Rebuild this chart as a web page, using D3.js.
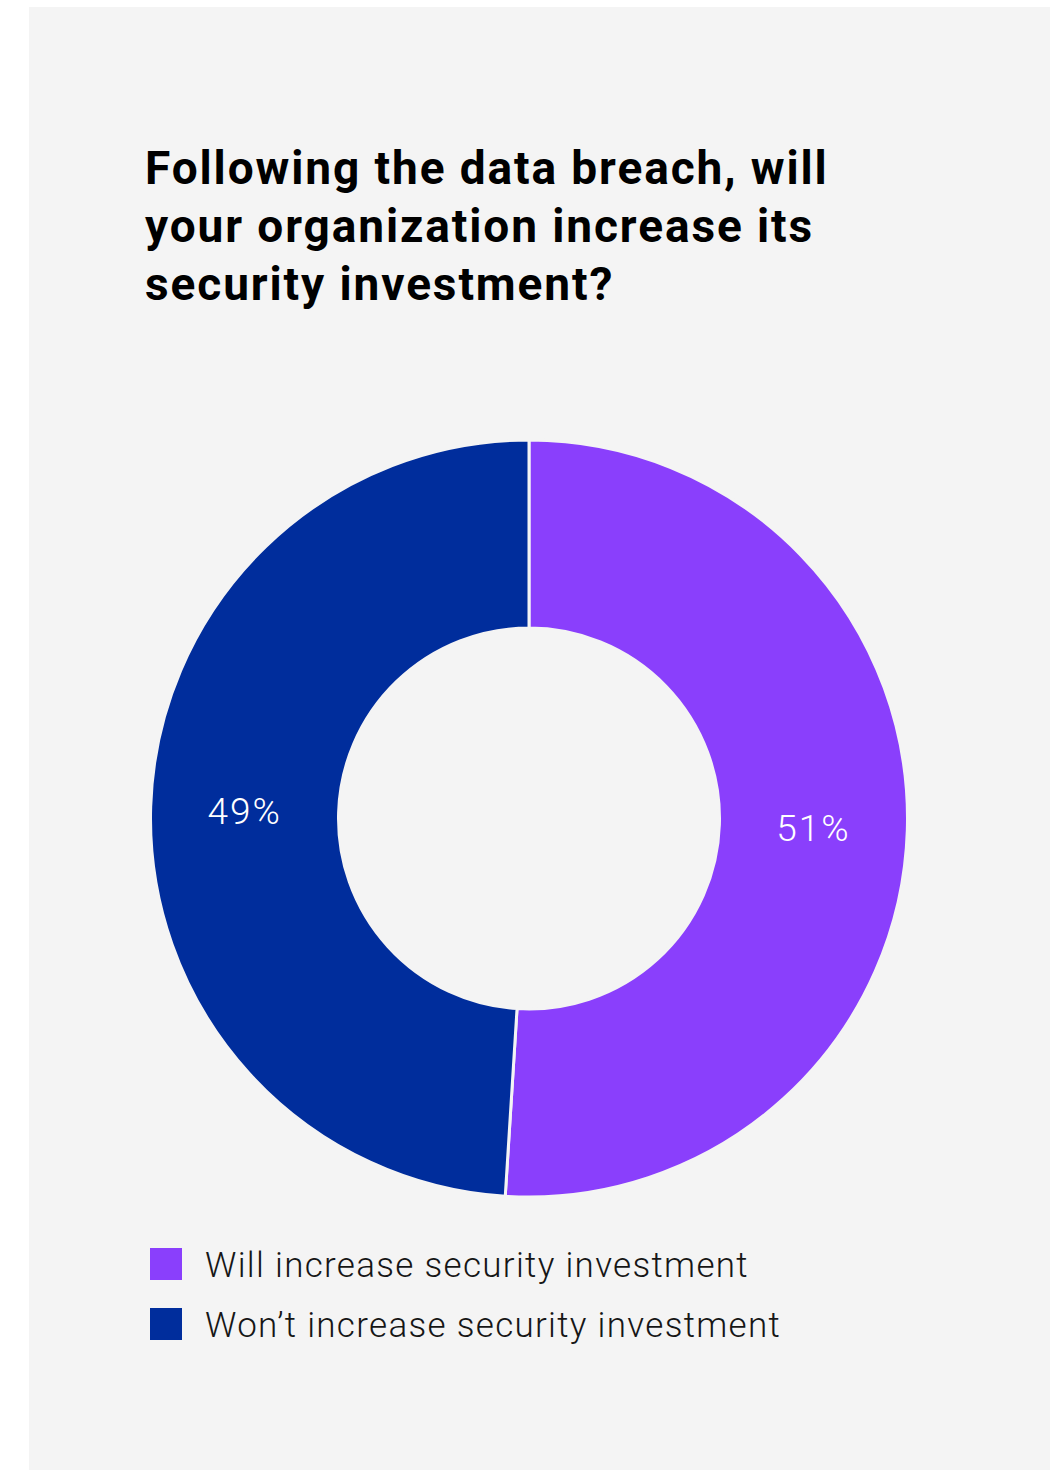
<!DOCTYPE html>
<html><head><meta charset="utf-8">
<script src="https://cdn.jsdelivr.net/npm/d3@7"></script>
<style>html,body{margin:0;padding:0;background:#fff;}</style>
</head><body>
<script>
const categories = ["Will increase security investment", "Won\u2019t increase security investment"];
const values = [51, 49];
const valueLabels = ["51%", "49%"];
const colors = ["#8a3ffc", "#002d9c"];
const titleLines = ["Following the data breach, will", "your organization increase its", "security investment?"];

const W = 1050, H = 1470;
const svg = d3.select("body").append("svg").attr("width", W).attr("height", H);
svg.append("rect").attr("x", 29).attr("y", 7).attr("width", W - 29).attr("height", H - 7).attr("fill", "#f4f4f4");

const title = svg.append("text").attr("font-family", "Roboto, sans-serif").attr("font-weight", 700)
  .attr("font-size", 46).attr("letter-spacing", 1.9).attr("fill", "#000");
titleLines.forEach((t, i) => title.append("tspan").attr("x", 145).attr("y", 184 + i * 58).text(t));

const cx = 529, cy = 818.5, rOuter = 378.5, rInner = 190.5;
const pie = d3.pie().sort(null).value(d => d);
const arc = d3.arc().innerRadius(rInner).outerRadius(rOuter);
const g = svg.append("g").attr("transform", `translate(${cx},${cy})`);
const arcs = pie(values);
g.selectAll("path").data(arcs).join("path")
  .attr("d", arc).attr("fill", (d, i) => colors[i])
  .attr("stroke", "#f4f4f4").attr("stroke-width", 3);
const labelArc = d3.arc().innerRadius((rInner + rOuter) / 2).outerRadius((rInner + rOuter) / 2);
g.selectAll("text").data(arcs).join("text")
  .attr("transform", d => `translate(${labelArc.centroid(d)})`)
  .attr("text-anchor", "middle").attr("dy", "0.38em")
  .attr("font-family", "Roboto, sans-serif").attr("font-weight", 300).attr("font-size", 37)
  .attr("letter-spacing", 2)
  .attr("fill", "#fff").text((d, i) => valueLabels[i]);

const leg = svg.append("g");
categories.forEach((c, i) => {
  const y = 1248 + i * 60;
  leg.append("rect").attr("x", 150).attr("y", y).attr("width", 32).attr("height", 32).attr("fill", colors[i]);
  leg.append("text").attr("x", 205).attr("y", y + 29)
    .attr("font-family", "Roboto, sans-serif").attr("font-weight", 300).attr("font-size", 35)
    .attr("letter-spacing", 1.3)
    .attr("fill", "#161616").text(c);
});
</script>
</body></html>
